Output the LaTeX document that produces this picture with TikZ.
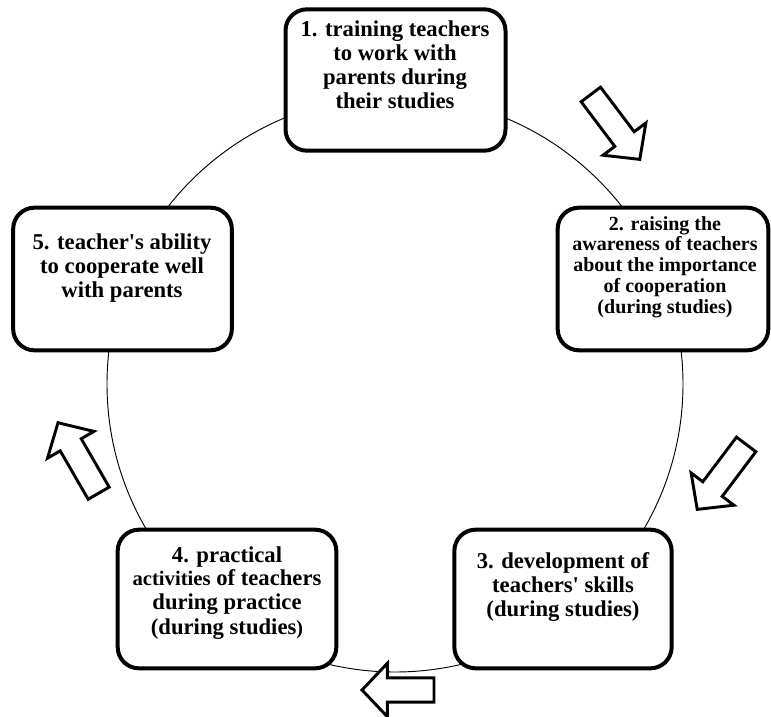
\documentclass[tikz,border=0pt]{standalone}
\usepackage{fontspec}
\setmainfont{Liberation Serif}
\usetikzlibrary{shapes.arrows}

\begin{document}
\begin{tikzpicture}[
		x=0.75pt, y=-0.75pt,
		box/.style={rectangle, draw, line width=3pt, rounded corners=16pt, fill=white, inner sep=0pt},
		txt/.style={anchor=north, align=center, inner sep=0pt, font=\fontsize{17}{18}\selectfont\bfseries},
		blockarrow/.style={single arrow, draw, line width=2.2pt, fill=white, inner xsep=0pt, inner ysep=8pt, minimum height=61pt, single arrow head extend=11pt, single arrow tip angle=93, anchor=tip}
	]
		\useasboundingbox (0,0) rectangle (771,717);
		
		% Cycle
		\draw[line width=0.7pt] (395,384) circle[radius=216pt];
		
		% Boxes
		\node[box, minimum width=165pt, minimum height=106pt] (b1) at (395.5,80) {};
		\node[box, minimum width=158pt, minimum height=107pt] (b2) at (663,279) {};
		\node[box, minimum width=163pt, minimum height=104pt] (b3) at (563,599) {};
		\node[box, minimum width=164pt, minimum height=104pt] (b4) at (227,599) {};
		\node[box, minimum width=164pt, minimum height=107pt] (b5) at (122.5,279) {};
		
		% Texts
		\node[txt] (t1) at (395,21) {1. training teachers\\to work with\\parents during\\their studies};
		\node[txt, font=\fontsize{15}{15.6}\selectfont\bfseries] (t2) at (665,216) {2. raising the\\awareness of teachers\\about the importance\\of cooperation\\(during studies)};
		\node[txt] (t3) at (563,552) {3. development of\\teachers\textquotesingle{} skills\\(during studies)};
		\node[txt] (t4) at (227,546) {4. practical\\{\fontsize{15.5}{18}\selectfont activities} of teachers\\during practice\\(during studies{\fontsize{15}{18}\selectfont )}};
		\node[txt] (t5) at (122,234) {5. teacher\textquotesingle{}s ability\\to cooperate well\\with parents};
		
		% Arrows
		\node[blockarrow, rotate=-53] (a12) at (641,161) {};
		\node[blockarrow, rotate=-127] (a23) at (696,511) {};
		\node[blockarrow, rotate=180, minimum height=54pt] (a34) at (360,690) {};
		\node[blockarrow, rotate=120] (a45) at (57,421) {};
	\end{tikzpicture}
\end{document}
